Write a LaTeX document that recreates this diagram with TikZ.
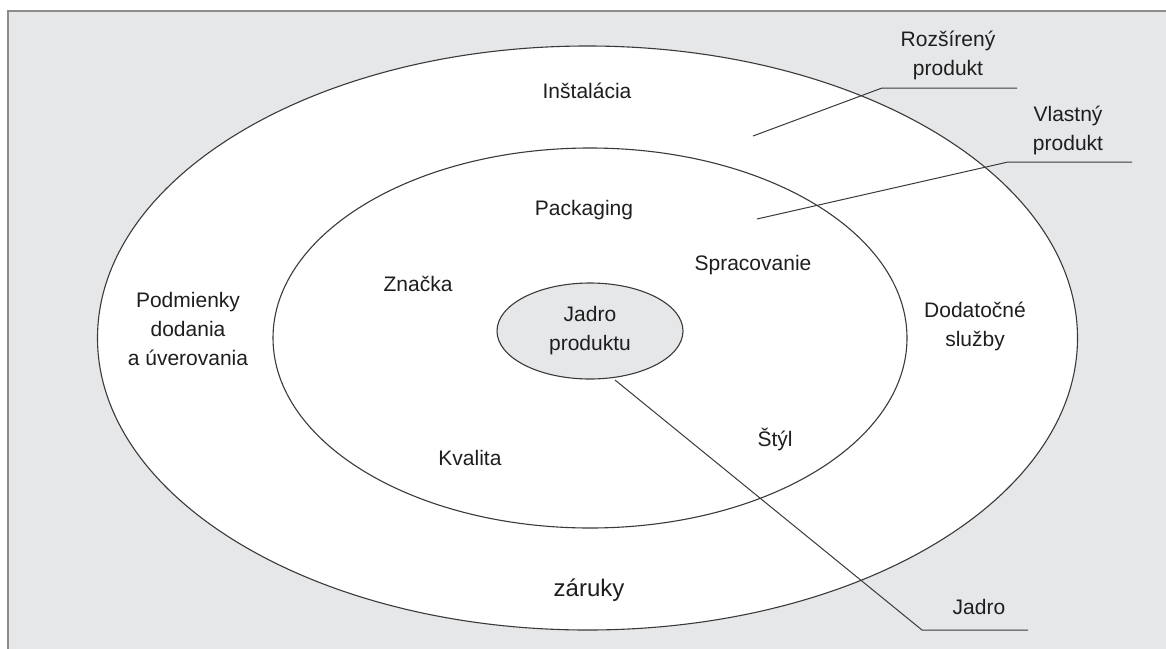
\documentclass[tikz,border=0pt]{standalone}
\usepackage{fontspec}
\setmainfont{Liberation Sans}
\usepackage{xcolor}
\usetikzlibrary{shapes,positioning}

\definecolor{panel}{HTML}{E6E7E9}
\definecolor{ringline}{HTML}{3A3A3A}
\definecolor{framegray}{HTML}{8C8C8C}
\definecolor{txt}{HTML}{1E1E1E}

\begin{document}
\begin{tikzpicture}[x=1pt, y=-1pt,
    ring/.style={draw=ringline, ellipse, inner sep=0pt, line width=1.1pt},
    lbl/.style={align=center, text=txt, inner sep=0pt, font=\fontsize{21}{29}\selectfont},
    leader/.style={draw=ringline, line width=1pt}]
        \clip (0,0) rectangle (1166,648);
        \draw [fill=panel, draw=framegray, line width=2pt] (8,11) rectangle (1180,670);
        % rings
        \node [ring, fill=white, minimum width=980pt, minimum height=584pt] (outer) at (587.5,338) {};
        \node [ring, fill=white, minimum width=634pt, minimum height=380pt] (inner) at (590,338) {};
        \node [ring, fill=panel, minimum width=186pt, minimum height=96pt] (core) at (590,331) {};
        \node [lbl] (corelbl) at (core) {Jadro\\produktu};
        % ring texts
        \node [lbl] (instal) at (587,91) {Inštalácia};
        \node [lbl] (packag) at (584,210) {Packaging};
        \node [lbl] (sprac) at (753,265) {Spracovanie};
        \node [lbl] (znacka) at (418,284) {Značka};
        \node [lbl] (podm) at (188,329) {Podmienky\\dodania\\a úverovania};
        \node [lbl] (dodat) at (975,326) {Dodatočné\\služby};
        \node [lbl] (kval) at (470,458) {Kvalita};
        \node [lbl] (styl) at (775,439) {Štýl};
        \node [lbl, font=\fontsize{24}{29}\selectfont] (zaruky) at (589,590) {záruky};
        % leaders
        \coordinate (rozA) at (753,136);
        \coordinate (rozB) at (882,88);
        \coordinate (rozC) at (1017,88);
        \draw [leader] (rozA) -- (rozB) -- (rozC);
        \node [lbl] (rozsir) at (948,55) {Rozšírený\\produkt};
        \coordinate (vlaA) at (757,219);
        \coordinate (vlaB) at (1008,162);
        \coordinate (vlaC) at (1132,162);
        \draw [leader] (vlaA) -- (vlaB) -- (vlaC);
        \node [lbl] (vlastny) at (1068,130) {Vlastný\\produkt};
        \coordinate (jadA) at (615,380);
        \coordinate (jadB) at (922,630);
        \coordinate (jadC) at (1028,630);
        \draw [leader] (jadA) -- (jadB) -- (jadC);
        \node [lbl] (jadro) at (979,607) {Jadro};
    \end{tikzpicture}
\end{document}
